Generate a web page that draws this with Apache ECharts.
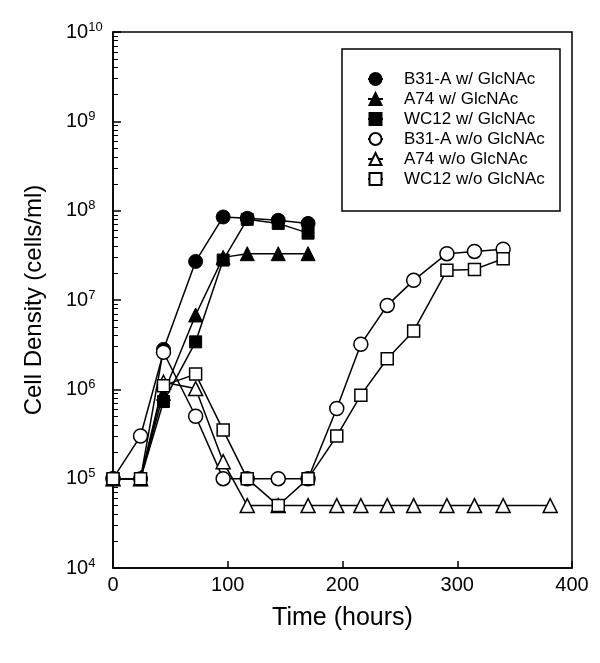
<!DOCTYPE html>
<html>
<head>
<meta charset="utf-8">
<script src="https://cdn.jsdelivr.net/npm/echarts@6/dist/echarts.min.js"></script>
<style>
html,body{margin:0;padding:0;background:#fff;}
#chart{width:600px;height:663px;}
</style>
</head>
<body>
<div id="chart"></div>
<script>
// Time points (hours)
var times = [0, 24, 44, 72, 96, 117, 144, 170, 195, 216, 239, 262, 291, 315, 340, 381];

// Cell density (cells/ml); null = no measurement
var b31aWith = [1e5, 1e5, 2.8e6, 2.7e7, 8.5e7, 8.2e7, 7.8e7, 7.2e7];
var a74With = [1e5, 1e5, 9e5, 6.8e6, 3.0e7, 3.3e7, 3.3e7, 3.3e7];
var wc12With = [1e5, 1e5, 7.3e5, 3.4e6, 2.8e7, 8.0e7, 7.2e7, 5.6e7];
var b31aWithout = [1e5, 3e5, 2.6e6, 5e5, 1e5, 1e5, 1e5, 1e5, 6.1e5, 3.2e6, 8.7e6, 1.66e7, 3.3e7, 3.5e7, 3.7e7];
var a74Without = [1e5, 1e5, 1.2e6, 1.02e6, 1.55e5, 5e4, 5e4, 5e4, 5e4, 5e4, 5e4, 5e4, 5e4, 5e4, 5e4, 5e4];
var wc12Without = [1e5, 1e5, 1.1e6, 1.48e6, 3.5e5, 1e5, 5e4, 1e5, 3e5, 8.6e5, 2.2e6, 4.5e6, 2.15e7, 2.2e7, 2.9e7];

var seriesNames = ['B31-A w/ GlcNAc', 'A74 w/ GlcNAc', 'WC12 w/ GlcNAc',
                   'B31-A w/o GlcNAc', 'A74 w/o GlcNAc', 'WC12 w/o GlcNAc'];

var xTicks = [0, 100, 200, 300, 400];
var yMin = 1e4, yMax = 1e10;

function pairs(vals) {
  var out = [];
  for (var i = 0; i < vals.length; i++) {
    if (vals[i] != null) out.push([times[i], vals[i]]);
  }
  return out;
}

// minor log tick positions 2..9 x 10^n
var minorVals = [];
for (var d = 4; d < 10; d++) {
  for (var m = 2; m <= 9; m++) minorVals.push(m * Math.pow(10, d));
}

var FONT = 'Liberation Sans, Arial, Helvetica, sans-serif';

function mk(name, vals, symbol, filled, size) {
  return {
    name: name,
    type: 'line',
    data: pairs(vals),
    symbol: symbol,
    symbolSize: size,
    showSymbol: true,
    animation: false,
    lineStyle: { color: '#000', width: 1.5 },
    itemStyle: filled ? { color: '#000', borderColor: '#000', borderWidth: 1 }
                      : { color: '#fff', borderColor: '#000', borderWidth: 1.5 },
    emphasis: { disabled: true }
  };
}

var chart = echarts.init(document.getElementById('chart'), null, { renderer: 'canvas' });

var option = {
  backgroundColor: '#fff',
  animation: false,
  textStyle: { fontFamily: FONT, color: '#000' },
  grid: {
    left: 113, right: 28, top: 32, bottom: 95,
    show: true, borderColor: '#000', borderWidth: 1.5, backgroundColor: 'transparent'
  },
  graphic: [{
    type: 'rect',
    shape: { x: 342, y: 49, width: 218, height: 162 },
    style: { fill: '#fff', stroke: '#000', lineWidth: 1.5 },
    z: 5
  }],
  legend: {
    orient: 'vertical',
    left: 367, top: 69,
    padding: 0,
    itemWidth: 15, itemHeight: 15, itemGap: 0,
    z: 10,
    textStyle: { fontFamily: FONT, fontSize: 17, lineHeight: 20, color: '#000', padding: [0, 0, 0, 16] },
    data: seriesNames
  },
  xAxis: {
    type: 'value',
    min: xTicks[0], max: xTicks[xTicks.length - 1], interval: 100,
    name: 'Time (hours)',
    nameLocation: 'middle',
    nameGap: 38,
    nameTextStyle: { fontFamily: FONT, fontSize: 25, color: '#000' },
    axisLine: { show: true, lineStyle: { color: '#000', width: 1.5 } },
    axisTick: { show: true, inside: true, length: 7, lineStyle: { color: '#000', width: 1.5 } },
    axisLabel: { fontFamily: FONT, fontSize: 20, color: '#000', margin: 7 },
    splitLine: { show: false }
  },
  yAxis: [{
    type: 'log', logBase: 10,
    min: yMin, max: yMax,
    name: 'Cell Density (cells/ml)',
    nameLocation: 'middle',
    nameGap: 67,
    nameTextStyle: { fontFamily: FONT, fontSize: 24, color: '#000' },
    axisLine: { show: true, lineStyle: { color: '#000', width: 1.5 } },
    axisTick: { show: true, inside: true, length: 8, lineStyle: { color: '#000', width: 1.5 } },
    axisLabel: {
      margin: 47, align: 'left',
      formatter: function (v) {
        var e = Math.round(Math.log(v) / Math.LN10);
        return '{b|10}{s|' + e + '}';
      },
      rich: {
        b: { fontFamily: FONT, fontSize: 20, color: '#000' },
        s: { fontFamily: FONT, fontSize: 13, color: '#000', padding: [0, 0, 10, 0] }
      }
    },
    splitLine: { show: false }
  }, {
    type: 'log', logBase: 10,
    min: yMin, max: yMax,
    position: 'left',
    axisLine: { show: false },
    axisTick: { show: true, inside: true, length: 5, customValues: minorVals,
                lineStyle: { color: '#000', width: 1 } },
    axisLabel: { show: false },
    splitLine: { show: false }
  }],
  series: [
    mk(seriesNames[0], b31aWith, 'circle', true, 14),
    mk(seriesNames[1], a74With, 'triangle', true, 14),
    mk(seriesNames[2], wc12With, 'rect', true, 12),
    mk(seriesNames[3], b31aWithout, 'circle', false, 14),
    mk(seriesNames[4], a74Without, 'triangle', false, 14),
    mk(seriesNames[5], wc12Without, 'rect', false, 12)
  ]
};
chart.setOption(option);
</script>
</body>
</html>
